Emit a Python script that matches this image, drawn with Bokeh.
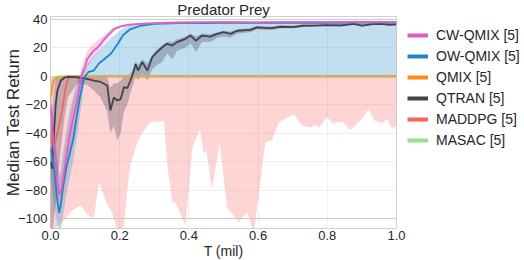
from bokeh.plotting import figure
from bokeh.models import Range1d, FixedTicker, PrintfTickFormatter, Legend, LegendItem, Span
from bokeh.embed import file_html
from bokeh.resources import INLINE

FONT = "Liberation Sans"
TXT = "#262626"

# ---------------- data ----------------
labels = ["CW-QMIX [5]", "OW-QMIX [5]", "QMIX [5]", "QTRAN [5]", "MADDPG [5]", "MASAC [5]"]
colors = ["#dd5fc0", "#1a87c6", "#ff8c1a", "#45404f", "#f7655f", "#99e08d"]

x_ticks = [0.0, 0.2, 0.4, 0.6, 0.8, 1.0]
y_ticks = [-100, -80, -60, -40, -20, 0, 20, 40]

cw_x = [0, 0.01, 0.02, 0.025, 0.03, 0.035, 0.045, 0.055, 0.065, 0.075, 0.085, 0.09, 0.1, 0.106, 0.115,
        0.125, 0.135, 0.145, 0.155, 0.165, 0.175, 0.185, 0.2, 0.212, 0.23, 0.26, 0.29, 0.35, 0.4, 0.5,
        0.6, 0.7, 0.8, 0.9, 1.0]
cw_y = [-20, -50, -75, -83, -82, -75, -58, -42, -30, -20, -6, 1, 7, 12, 15, 18, 20, 22.7, 26, 28.6,
        31, 33.3, 34.8, 35.6, 36.3, 36.8, 37.2, 37.6, 37.8, 38, 37.8, 38, 38, 38.2, 38]
cw_lo = [-35, -65, -88, -95, -92, -85, -70, -55, -42, -30, -14, -6, 1, 6, 10, 13, 16, 19, 23, 26,
         29, 32, 33.8, 34.8, 35.6, 36.2, 36.7, 37.1, 37.3, 37.5, 37.3, 37.5, 37.5, 37.7, 37.5]
cw_hi = [-5, -35, -62, -70, -70, -64, -45, -30, -18, -10, 2, 6, 14, 18, 21, 23, 25, 27, 29, 31,
         33, 34.5, 35.8, 36.4, 37, 37.4, 37.7, 38.1, 38.3, 38.5, 38.3, 38.5, 38.5, 38.7, 38.5]

ow_x = [0, 0.01, 0.02, 0.025, 0.03, 0.035, 0.045, 0.055, 0.065, 0.075, 0.085, 0.095, 0.1, 0.11,
        0.125, 0.14, 0.155, 0.175, 0.195, 0.21, 0.23, 0.26, 0.3, 0.35, 0.4, 0.45, 0.5, 0.6, 0.7,
        0.8, 0.9, 1.0]
ow_y = [-50, -65, -88, -96, -90, -80, -65, -55, -45, -30, -15, -3, 0, 3, 4, 9, 12, 16, 23, 29, 33,
        35.5, 36.8, 37.2, 37.5, 37.3, 37.6, 37.5, 37.8, 37.6, 37.8, 37.8]
ow_lo = [-70, -90, -105, -110, -108, -100, -85, -72, -60, -45, -28, -10, 0, 0, 0, 0, 0, 0, 0, 0, 0,
         0, 0, 0, 0, 0, 0, 0, 0, 0, 0, 0]
ow_hi = [-30, -40, -60, -70, -65, -55, -40, -25, -15, -5, 0, 3, 6, 10, 14, 18, 22, 27, 31, 34, 36,
         37.5, 38.2, 38.5, 38.6, 38.6, 38.7, 38.7, 38.8, 38.8, 38.8, 38.8]

qm_x = [0, 0.005, 0.01, 0.02, 0.05, 0.2, 0.4, 0.6, 0.8, 1.0]
qm_y = [-15, -8, -3, -0.5, 0, 0, 0, 0, 0, 0]
qm_lo = [-22, -14, -6, -1.5, -0.3, -0.3, -0.3, -0.3, -0.3, -0.3]
qm_hi = [-6, -2, 0, 0, 0.3, 0.3, 0.3, 0.3, 0.3, 0.3]

qt_x = [0.0, 0.005, 0.01, 0.015, 0.02, 0.03, 0.04, 0.05, 0.077, 0.106, 0.125, 0.145, 0.164, 0.173,
        0.183, 0.193, 0.203, 0.212, 0.222, 0.231, 0.24, 0.246, 0.253, 0.265, 0.28, 0.294, 0.308,
        0.323, 0.337, 0.352, 0.366, 0.39, 0.405, 0.42, 0.438, 0.462, 0.482, 0.5, 0.52, 0.54, 0.578,
        0.597, 0.62, 0.64, 0.665, 0.7, 0.73, 0.761, 0.8, 0.84, 0.877, 0.9, 0.93, 0.954, 0.98, 1.0]
qt_y = [-60, -65, -40, -20, -10, -3, -1, -0.5, -0.7, -1.9, -3, -4, -6.5, -24, -15, -17, -16, -7.7,
        -8.4, -3, 3, 8.7, 4, 10, 4, 13.4, 16.9, 20.4, 22.8, 21.6, 24, 26.3, 28.6, 25, 28.6, 27.8,
        29.8, 31, 29.8, 32, 32.6, 34.4, 34, 33.8, 34.8, 34.6, 35.5, 35.6, 36, 35.8, 36.8, 35.6,
        36.6, 36.8, 36.2, 36.5]
qt_lo = [-110, -110, -100, -90, -75, -50, -30, -15, -5, -6, -10, -15, -25, -40, -35, -45, -40, -25,
         -20, -12, -5, 0, -3, 2, -3, 5, 8, 10, 16, 12, 18, 20, 23, 17, 24, 24, 27, 28, 27, 30, 31,
         33, 32.5, 32.5, 33.8, 33.8, 34.8, 35, 35.3, 35, 36, 34.8, 36, 36.2, 35.6, 36]
qt_hi = [-20, -25, -10, -3, 0, 0, 0, 0, 0, 0, 0, 0, -1, -8, -5, -5, -3, 0, 0, 2, 6, 10, 8, 12, 9,
         15, 19, 22, 24.5, 24, 26, 28, 30, 28, 30, 29.5, 31, 32, 31.5, 33, 34, 35.4, 35.2, 35, 35.8,
         35.6, 36.3, 36.4, 36.8, 36.6, 37.5, 36.6, 37.3, 37.5, 37, 37.3]

mad_x = [0, 0.007, 0.015, 0.025, 0.035, 0.045, 0.055, 0.2, 0.4, 0.6, 0.8, 1.0]
mad_y = [-40, -50, -45, -35, -22, -6, 0, 0, 0, 0, 0, 0]
mb_x = [0.0, 0.045, 0.063, 0.087, 0.106, 0.125, 0.14, 0.16, 0.178, 0.19, 0.2, 0.212, 0.222, 0.231,
        0.241, 0.25, 0.26, 0.28, 0.289, 0.328, 0.337, 0.352, 0.361, 0.39, 0.41, 0.432, 0.443, 0.45,
        0.467, 0.489, 0.51, 0.544, 0.568, 0.588, 0.621, 0.64, 0.66, 0.703, 0.727, 0.751, 0.765,
        0.775, 0.8, 0.815, 0.845, 0.867, 0.896, 0.92, 0.936, 0.958, 0.973, 0.987, 1.0]
mb_lo = [-110, -100, -94, -91, -97, -100, -74, -88, -96, -106, -110, -105, -80, -61.6, -54.5, -47,
         -41.7, -34.7, -32.3, -31.5, -61, -88.5, -88.5, -105, -50, -37, -55, -51.5, -79, -47.5, -92,
         -102.6, -95.5, -110, -46.4, -45, -32.3, -26.5, -34.7, -36, -34, -36, -28.8, -33, -32, -38,
         -31, -23, -31, -33, -30, -36.5, -35]
mb_hi = [0.0] * len(mb_x)

ms_x = [0, 0.005, 0.01, 0.02, 0.2, 0.5, 1.0]
ms_y = [-6, -3, -1, 0, 0, 0, 0]
ms_lo = [-12, -7, -3, -0.5, -0.3, -0.3, -0.3]
ms_hi = [-1, 0, 0, 0, 0.3, 0.3, 0.3]

# ---------------- figure ----------------
p = figure(frame_width=346, frame_height=212, output_backend="svg", toolbar_location=None,
           x_range=Range1d(0, 1.0), y_range=Range1d(-107, 42),
           min_border_left=50, min_border_right=128, min_border_top=16, min_border_bottom=30,
           title="Predator Prey")
p.title.align = "center"
p.title.text_font = FONT
p.title.text_font_size = "15px"
p.title.text_font_style = "normal"
p.title.text_color = TXT
p.title.standoff = -3
p.title.offset = 0

p.outline_line_color = "#d0d0d0"
p.background_fill_color = "white"
p.border_fill_color = "white"

for ax in (p.xaxis[0], p.yaxis[0]):
    ax.axis_line_color = None
    ax.major_tick_line_color = None
    ax.minor_tick_line_color = None
    ax.major_tick_out = 0
    ax.major_tick_in = 0
    ax.major_label_text_font = FONT
    ax.major_label_text_font_size = "13px"
    ax.major_label_text_color = TXT
    ax.axis_label_text_font = FONT
    ax.axis_label_text_font_style = "normal"
    ax.axis_label_text_color = TXT

p.xaxis.ticker = FixedTicker(ticks=x_ticks)
p.xaxis.formatter = PrintfTickFormatter(format="%.1f")
p.xaxis.major_label_standoff = 2
p.xaxis.axis_label = "T (mil)"
p.xaxis.axis_label_text_font_size = "14px"
p.xaxis.axis_label_standoff = 0

p.yaxis.ticker = FixedTicker(ticks=y_ticks)
p.yaxis.major_label_overrides = {t: (str(t).replace("-", "\u2212")) for t in y_ticks}
p.yaxis.major_label_standoff = 3
p.yaxis.axis_label = "Median Test Return"
p.yaxis.axis_label_text_font_size = "17px"
p.yaxis.axis_label_standoff = -8

p.xgrid.grid_line_color = "#efefef"
p.ygrid.grid_line_color = "#efefef"
p.xgrid.ticker = FixedTicker(ticks=x_ticks)
p.ygrid.ticker = FixedTicker(ticks=y_ticks)
for yv in (-100, 40):
    p.add_layout(Span(location=yv, dimension="width", line_color="#c8c8c8", line_width=1))

# bands
A = 0.27
p.varea(x=mb_x, y1=mb_lo, y2=mb_hi, fill_color=colors[4], fill_alpha=A)
p.varea(x=ow_x, y1=ow_lo, y2=ow_hi, fill_color=colors[1], fill_alpha=A)
p.varea(x=cw_x, y1=cw_lo, y2=cw_hi, fill_color=colors[0], fill_alpha=A)
p.varea(x=qt_x, y1=qt_lo, y2=qt_hi, fill_color=colors[3], fill_alpha=0.3)
p.varea(x=qm_x, y1=qm_lo, y2=qm_hi, fill_color=colors[2], fill_alpha=A)
p.varea(x=ms_x, y1=ms_lo, y2=ms_hi, fill_color=colors[5], fill_alpha=A)

# lines
LW = 1.8
p.line(mad_x, mad_y, line_color=colors[4], line_width=LW)
p.line(qm_x, qm_y, line_color=colors[2], line_width=LW, line_alpha=0.9)
p.line(ms_x, ms_y, line_color=colors[5], line_width=LW, line_alpha=0.55)
p.line(qt_x, qt_y, line_color=colors[3], line_width=LW)
p.line(ow_x, ow_y, line_color=colors[1], line_width=LW)
p.line(cw_x, cw_y, line_color=colors[0], line_width=LW)

# legend: thick proxy lines (single point -> draw nothing in the plot)
first_pts = [(cw_x[0], cw_y[0]), (ow_x[0], ow_y[0]), (qm_x[0], qm_y[0]),
             (qt_x[0], qt_y[0]), (mad_x[0], mad_y[0]), (ms_x[0], ms_y[0])]
items = []
for lab, col, (px0, py0) in zip(labels, colors, first_pts):
    r = p.line([px0], [py0], line_color=col, line_width=4)
    items.append(LegendItem(label=lab, renderers=[r]))
legend = Legend(items=items, location=(11, 80), margin=0, padding=0, spacing=5,
                glyph_height=16, label_height=16, glyph_width=21, label_standoff=8,
                label_text_font=FONT, label_text_font_size="14px", label_text_color=TXT,
                border_line_color=None, background_fill_alpha=0)
p.add_layout(legend, "right")

open("out.html", "w").write(file_html(p, INLINE))
